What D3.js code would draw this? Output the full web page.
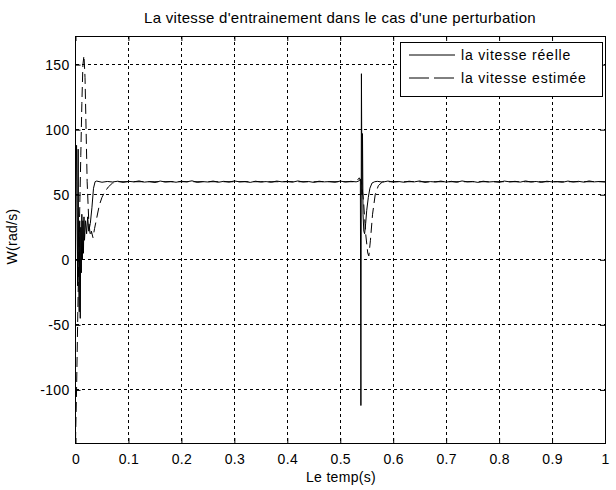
<!DOCTYPE html>
<html><head><meta charset="utf-8">
<script src="https://cdn.jsdelivr.net/npm/d3@7"></script>
<style>
body{margin:0;background:#fff;}
text{font-family:"Liberation Sans",Arial,sans-serif;fill:#000;}
</style></head>
<body><svg id="c" width="616" height="490"></svg>
<script>
const xTicks = [0,0.1,0.2,0.3,0.4,0.5,0.6,0.7,0.8,0.9,1];
const xTickLabels = ["0","0.1","0.2","0.3","0.4","0.5","0.6","0.7","0.8","0.9","1"];
const yTicks = [-100,-50,0,50,100,150];
const yTickLabels = ["-100","-50","0","50","100","150"];
const seriesNames = ["la vitesse réelle","la vitesse estimée"];

// real speed (solid)
const realT = [0,0.001,0.002,0.003,0.004,0.005,0.006,0.007,0.008,0.009,0.010,0.011,0.012,0.013,0.014,0.015,0.016,0.017,0.019,0.021,0.023,0.025,0.028,0.031,0.034,0.037,
 0.04,0.05,0.06,0.07,0.08,0.09,0.10,0.11,0.12,0.13,0.14,0.15,0.16,0.17,0.18,0.19,0.20,0.21,0.22,0.23,0.24,0.25,0.26,0.27,0.28,0.29,0.30,0.31,0.32,0.33,0.34,0.35,0.36,0.37,0.38,0.39,0.40,0.41,0.42,0.43,0.44,0.45,0.46,0.47,0.48,0.49,0.50,0.51,0.52,0.53,
 0.535,0.538,0.5390,0.5400,0.5410,0.5420,0.5430,0.5445,0.546,0.548,0.550,0.553,0.556,0.560,0.565,
 0.57,0.58,0.59,0.60,0.61,0.62,0.63,0.64,0.65,0.66,0.67,0.68,0.69,0.70,0.71,0.72,0.73,0.74,0.75,0.76,0.77,0.78,0.79,0.80,0.81,0.82,0.83,0.84,0.85,0.86,0.87,0.88,0.89,0.90,0.91,0.92,0.93,0.94,0.95,0.96,0.97,0.98,0.99,1.00];
const realW = [0,60,88,40,-20,85,-10,-40,30,-45,25,-10,35,0,30,5,33,15,30,20,33,22,28,40,55,60,
 60.5,59.6,60.2,59.8,60.4,59.5,60.3,59.9,60.6,59.7,60.1,59.4,60.5,59.8,60.2,59.6,60.4,59.9,60.7,59.5,60.1,59.8,60.5,59.6,60.3,59.7,60.6,59.9,60.2,59.5,60.4,59.8,60.1,59.6,60.5,59.9,60.3,59.7,60.6,59.8,60.2,59.5,60.4,59.9,60.1,59.6,60.5,59.8,60.3,59.9,
 60.5,62,-112,143,50,97,35,22,20,28,38,48,55,59,60,
 60.3,59.7,60.5,59.8,60.2,59.6,60.4,59.9,60.6,59.5,60.1,59.8,60.5,59.7,60.3,59.6,60.6,59.9,60.2,59.5,60.4,59.8,60.1,59.6,60.5,59.9,60.3,59.7,60.6,59.8,60.2,59.5,60.4,59.9,60.1,59.6,60.5,59.8,60.3,59.7,60.6,59.9,60.2,59.8];

// estimated speed (dashed)
const estT = [0,0.002,0.004,0.006,0.008,0.010,0.012,0.014,0.016,0.018,0.020,0.022,0.025,0.028,0.030,0.033,0.036,0.040,0.045,0.050,0.055,0.062,0.070,0.080,
 0.10,0.15,0.20,0.25,0.30,0.35,0.40,0.45,0.50,0.53,
 0.536,0.540,0.544,0.548,0.552,0.554,0.557,0.561,0.566,0.572,0.580,
 0.60,0.65,0.70,0.75,0.80,0.85,0.90,0.95,1.00];
const estW = [-140,-100,-50,0,40,80,120,150,157,140,100,60,30,18,22,17,24,32,42,48,52,56,59,60,
 60,60,60,60,60,60,60,60,60,60,
 63,60,45,20,5,3,15,35,50,57,60,
 60,60,60,60,60,60,60,60,60];

const svg = d3.select("#c");
const L=75.5, R=605, T=36, B=443;
const x = d3.scaleLinear().domain([0,1]).range([L,R]);
const y = d3.scaleLinear().domain([-140.8,172]).range([B,T]);

svg.append("rect").attr("width",616).attr("height",490).attr("fill","#fff");

const g = svg.append("g");
// grid
g.selectAll(".gx").data(xTicks.slice(1,-1)).enter().append("line")
 .attr("x1",d=>x(d)).attr("x2",d=>x(d)).attr("y1",T).attr("y2",B)
 .attr("stroke","#000").attr("stroke-width",1).attr("stroke-dasharray","3,3").attr("shape-rendering","crispEdges");
g.selectAll(".gy").data(yTicks).enter().append("line")
 .attr("x1",L).attr("x2",R).attr("y1",d=>y(d)).attr("y2",d=>y(d))
 .attr("stroke","#000").attr("stroke-width",1).attr("stroke-dasharray","3,3").attr("shape-rendering","crispEdges");

// axes
const xAxisB = d3.axisBottom(x).tickValues(xTicks).tickFormat((d,i)=>xTickLabels[i]).tickSizeInner(-5).tickSizeOuter(0).tickPadding(11);
const xAxisT = d3.axisTop(x).tickValues(xTicks).tickFormat("").tickSizeInner(-5).tickSizeOuter(0);
const yAxisL = d3.axisLeft(y).tickValues(yTicks).tickFormat((d,i)=>yTickLabels[i]).tickSizeInner(-5).tickSizeOuter(0).tickPadding(6);
const yAxisR = d3.axisRight(y).tickValues(yTicks).tickFormat("").tickSizeInner(-5).tickSizeOuter(0);
function style(sel){sel.select(".domain").remove();sel.selectAll("line").attr("stroke","#000");sel.selectAll("text").style("font-size","14px").style("letter-spacing","0.3px").attr("fill","#000").style("font-family","Liberation Sans, Arial, sans-serif");}
svg.append("g").attr("transform",`translate(0,${B})`).call(xAxisB).call(style);
svg.append("g").attr("transform",`translate(0,${T})`).call(xAxisT).call(style);
svg.append("g").attr("transform",`translate(${L},0)`).call(yAxisL).call(style);
svg.append("g").attr("transform",`translate(${R},0)`).call(yAxisR).call(style);

// clip
svg.append("clipPath").attr("id","clip").append("rect").attr("x",L).attr("y",T).attr("width",R-L).attr("height",B-T);
const line = d3.line().x(d=>x(d[0])).y(d=>y(d[1]));
const realData = realT.map((t,i)=>[t,realW[i]]);
const estData = estT.map((t,i)=>[t,estW[i]]);
const pl = svg.append("g").attr("clip-path","url(#clip)");
pl.append("path").datum(realData).attr("d",line).attr("fill","none").attr("stroke","#000").attr("stroke-width",1);
pl.append("path").datum(estData).attr("d",line).attr("fill","none").attr("stroke","#000").attr("stroke-width",1).attr("stroke-dasharray","10,5");

// frame
svg.append("rect").attr("x",L).attr("y",T).attr("width",R-L).attr("height",B-T).attr("fill","none").attr("stroke","#000").attr("stroke-width",1).attr("shape-rendering","crispEdges");

// legend
const lg = svg.append("g");
lg.append("rect").attr("x",400.5).attr("y",42.5).attr("width",202).attr("height",54).attr("fill","#fff").attr("stroke","#000");
const rows=[{dash:null},{dash:"20,5"}];
rows.forEach((r,i)=>{
  const yy = 55+i*23;
  const ln = lg.append("line").attr("x1",409).attr("x2",455).attr("y1",yy).attr("y2",yy).attr("stroke","#000");
  if(r.dash) ln.attr("stroke-dasharray",r.dash);
  lg.append("text").attr("x",461).attr("y",yy+5).style("font-size","14px").style("letter-spacing","0.8px").text(seriesNames[i]);
});

// title & labels
svg.append("text").attr("x",340).attr("y",23).attr("text-anchor","middle").style("font-size","15px").style("letter-spacing","0.3px").text("La vitesse d'entrainement dans le cas d'une perturbation");
svg.append("text").attr("x",341).attr("y",482).attr("text-anchor","middle").style("font-size","14px").style("letter-spacing","0.3px").text("Le temp(s)");
svg.append("text").attr("transform",`translate(17,${(T+B)/2-3}) rotate(-90)`).attr("text-anchor","middle").style("font-size","14px").style("letter-spacing","0.3px").text("W(rad/s)");
</script></body></html>
